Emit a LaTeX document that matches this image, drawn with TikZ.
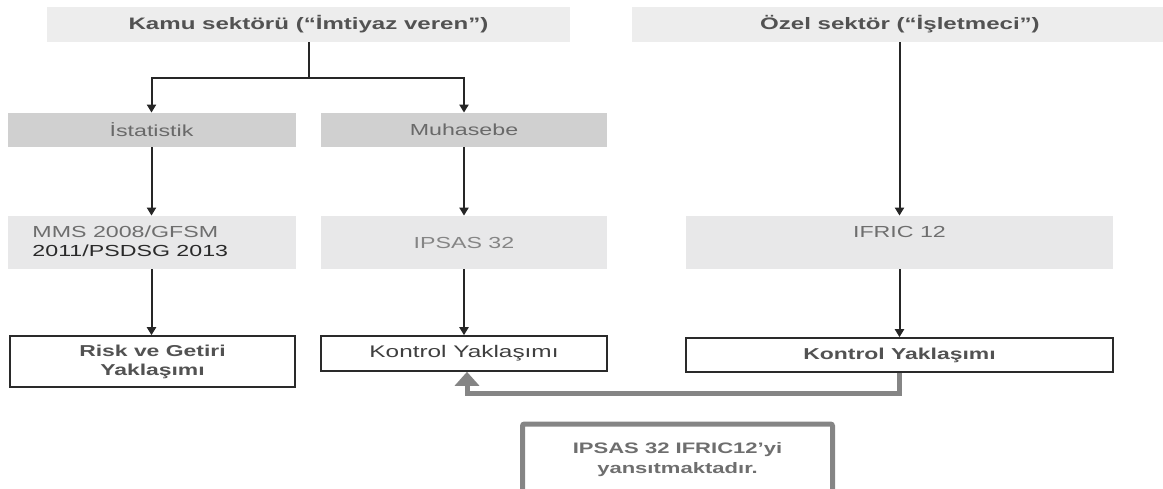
\documentclass[tikz,border=0pt]{standalone}
\usepackage{fontspec}
\setmainfont{Liberation Sans}[FakeStretch=1.45]
\usetikzlibrary{
    positioning,
    arrows.meta
    }
\definecolor{sectorFill}{HTML}{EDEDED}
\definecolor{branchFill}{HTML}{D0D0D0}
\definecolor{normFill}{HTML}{E8E8E9}
\definecolor{sectorText}{HTML}{525252}
\definecolor{softText}{HTML}{6E6E6E}
\definecolor{darkText}{HTML}{2A2A2A}
\definecolor{linkGray}{HTML}{858585}

\begin{document}
\begin{tikzpicture}[x=0.5pt, y=-0.5pt]
\tikzset{sector/.style =
        {
            rectangle,
            fill=sectorFill,
            text=sectorText,
            font=\fontsize{8.3}{10}\selectfont\bfseries,
            minimum height=17.5pt,
            inner sep=0pt
        }
}

\tikzset{branch/.style =
        {
            rectangle,
            fill=branchFill,
            text=softText!95!black,
            font=\fontsize{8}{9.5}\selectfont,
            minimum width=144pt,
            minimum height=17pt,
            inner sep=0pt
        }
}

\tikzset{norm/.style =
        {
            branch,
            fill=normFill,
            text=softText,
            minimum height=26.5pt
        }
}

\tikzset{approach/.style =
        {
            rectangle,
            draw=darkText,
            line width=0.8pt,
            fill=white,
            text=sectorText,
            font=\fontsize{7.9}{9.5}\selectfont\bfseries,
            align=center,
            inner sep=0pt
        }
}

\tikzset{note/.style =
        {
            rectangle,
            draw=linkGray,
            line width=2.5pt,
            rounded corners=1pt,
            text=softText,
            font=\fontsize{7.6}{10}\selectfont\bfseries,
            align=center,
            minimum width=155pt,
            minimum height=36pt,
            inner sep=0pt
        }
}

\tikzset{lbl/.style = { inner sep=0pt, font=\fontsize{8}{9.5}\selectfont } }

\tikzset{flow/.style = {
            line width=1pt,
            draw=black!85,
            -{Triangle[width=4.5pt,length=4pt]}
        }
}

\tikzset{feedback/.style = {
            line width=2.5pt,
            draw=linkGray,
            -{Triangle[width=12pt,length=7pt]}
        }
}
        \useasboundingbox (0,0) rectangle (1163,488);

        % sectors
        \node[sector, minimum width=261.5pt] (kamu) at (308.5,24.5) {Kamu sektörü (“İmtiyaz veren”)};
        \node[sector, minimum width=268pt] (ozel) at (900,24.5) {Özel sektör (“İşletmeci”)};

        % public branches
        \node[branch] (ist) at (151.5,130) {İstatistik};
        \node[branch, minimum width=143pt] (muh) at (464,130) {Muhasebe};

        % standards
        \node[norm] (mms) at (151.5,242.5) {};
        \node[lbl, align=left, below right=5pt and 12.5pt of mms.north west] (mmstext)
            {{\color{softText}MMS 2008/GFSM}\\{\color{darkText}2011/PSDSG 2013}};
        \node[norm, minimum width=143pt, text=linkGray] (ipsas) at (464,242.5) {IPSAS 32};
        \node[norm, minimum width=213.5pt] (ifric) at (899.5,242.5) {};
        \node[lbl, text=softText, below=5pt of ifric.north] (ifrictext) {IFRIC 12};

        % approaches
        \node[approach, minimum width=142.5pt, minimum height=25.5pt] (risk) at (152.5,361.5) {Risk ve Getiri\\Yaklaşımı};
        \node[approach, minimum width=143pt, minimum height=17.5pt, font=\fontsize{8.4}{10}\selectfont, text=darkText!90] (kon1) at (464,353.5) {Kontrol Yaklaşımı};
        \node[approach, minimum width=213.5pt, minimum height=17pt] (kon2) at (899.5,355) {Kontrol Yaklaşımı};

        \node[note] (note) at (677.5,460) {IPSAS 32 IFRIC12’yi\\yansıtmaktadır.};

        % connectors
        \coordinate (split) at (308.5,78);
        \draw[line width=1pt, draw=black!85] (kamu.south) -- (split);
        \draw[flow] (split) -| (ist.north);
        \draw[flow] (split) -| (muh.north);
        \draw[flow] (ozel.south -| ifric.north) -- (ifric.north);

        \foreach \a / \b in {ist/mms, muh/ipsas, mms/risk, ipsas/kon1, ifric/kon2}
        \draw[flow] (\a.south) -- (\a.south |- \b.north);

        \draw[feedback] (kon2.south) -- ++(0,21) -| ([xshift=1.5pt]kon1.south);

\end{tikzpicture}
\end{document}
